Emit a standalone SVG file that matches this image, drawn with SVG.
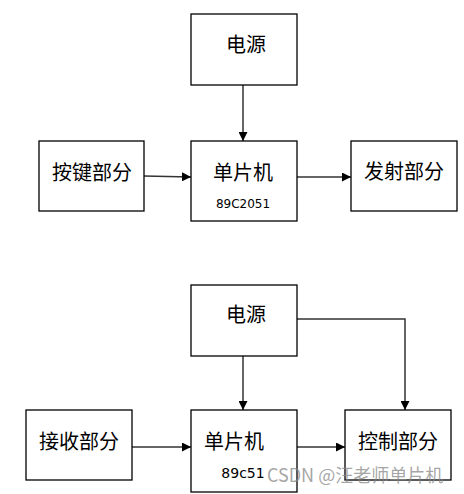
<svg xmlns="http://www.w3.org/2000/svg" width="464" height="494" viewBox="0 0 464 494">
<style>
.box{fill:#fff;stroke:#000;stroke-width:1.3}
.t{font-family:"Noto Sans CJK SC","Microsoft YaHei",sans-serif;font-size:20px;fill:#000;text-anchor:middle;dominant-baseline:central}
.s{font-family:"DejaVu Sans","Noto Sans",sans-serif;font-size:12px;fill:#000;text-anchor:middle;dominant-baseline:central}
.c{fill:none;stroke:#333;stroke-width:1.5}
.wm{font-family:"Noto Sans CJK SC",sans-serif;font-size:18px;fill:#888;fill-opacity:0.75;dominant-baseline:central}
</style>
<defs>
<marker id="ah" viewBox="0 0 10 10" refX="10" refY="5" markerWidth="9" markerHeight="9" markerUnits="userSpaceOnUse" orient="auto">
<path d="M0,0 L10,5 L0,10 z" fill="#000"/>
</marker>
</defs>
<rect width="464" height="494" fill="#fff"/>
<g id="connectors">
<line class="c" x1="243" y1="85" x2="243" y2="141" marker-end="url(#ah)"/>
<line class="c" x1="144" y1="176" x2="191" y2="177" marker-end="url(#ah)"/>
<line class="c" x1="297" y1="177" x2="351" y2="177" marker-end="url(#ah)"/>
<line class="c" x1="243" y1="356" x2="243" y2="410" marker-end="url(#ah)"/>
<polyline class="c" points="297,319 405,319 405,410" marker-end="url(#ah)"/>
<line class="c" x1="132" y1="447" x2="191" y2="447" marker-end="url(#ah)"/>
<line class="c" x1="297" y1="447" x2="345" y2="447" marker-end="url(#ah)"/>
</g>
<g id="power1"><rect class="box" x="191" y="14" width="106" height="71"/><text class="t" x="246" y="43">电源</text></g>
<g id="mcu1"><rect class="box" x="191" y="141" width="106" height="80"/><text class="t" x="243" y="171">单片机</text><text class="s" x="243" y="204">89C2051</text></g>
<g id="keys"><rect class="box" x="39" y="141" width="105" height="70"/><text class="t" x="92" y="171">按键部分</text></g>
<g id="tx"><rect class="box" x="351" y="141" width="106" height="70"/><text class="t" x="404" y="170">发射部分</text></g>
<g id="power2"><rect class="box" x="191" y="285" width="106" height="71"/><text class="t" x="246" y="313">电源</text></g>
<g id="mcu2"><rect class="box" x="191" y="410" width="106" height="82"/><text class="t" x="234" y="440">单片机</text><text class="s" x="243" y="473" style="font-size:14px">89c51</text></g>
<g id="rx"><rect class="box" x="26" y="410" width="106" height="70"/><text class="t" x="79" y="440">接收部分</text></g>
<g id="ctrl"><rect class="box" x="345" y="410" width="106" height="70"/><text class="t" x="398" y="440">控制部分</text></g>
<text class="wm" x="267" y="474">CSDN @汪老师单片机</text>
</svg>
